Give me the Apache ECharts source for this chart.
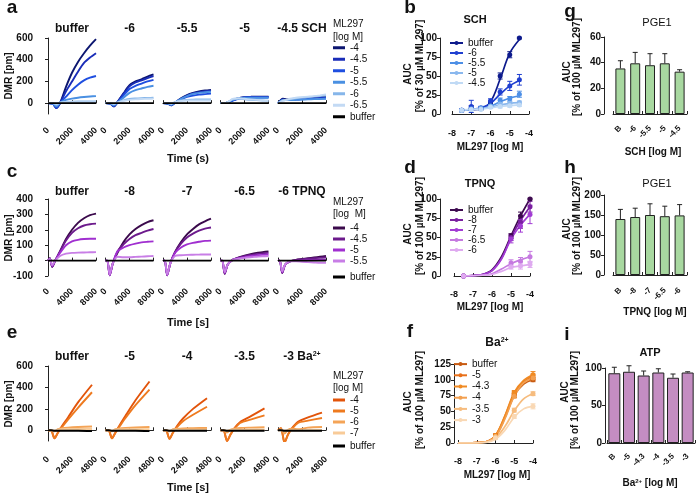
<!DOCTYPE html>
<html>
<head>
<meta charset="utf-8">
<script src="https://cdn.jsdelivr.net/npm/echarts@6/dist/echarts.min.js"></script>
<style>
  html, body { margin: 0; padding: 0; background: #fff; }
  #main { width: 696px; height: 495px; }
</style>
</head>
<body>
<div id="main"></div>
<script>
// ---------------- data ----------------
// a: DMR traces, SCH columns x ML297 rows
const schCols = ['buffer', '-6', '-5.5', '-5', '-4.5 SCH'];
const ml297A = ['-4', '-4.5', '-5', '-5.5', '-6', '-6.5', 'buffer'];
const timeA = [0, 400, 700, 1000, 1500, 2000, 2500, 3000, 3500, 4000];
const dmrA = [
  [ // SCH buffer
    [0, -5, -45, 0, 150, 280, 380, 460, 530, 590],
    [0, -5, -45, 0, 110, 200, 290, 370, 420, 460],
    [0, -5, -40, 0, 60, 120, 170, 210, 235, 250],
    [0, -5, -30, 5, 30, 42, 50, 56, 61, 65],
    [0, 0, -15, 5, 12, 14, 15, 15, 15, 15],
    [0, 0, -5, 5, 8, 8, 8, 8, 8, 8],
    [0, 0, 0, 0, 0, 0, 0, 0, 0, 0]
  ],
  [ // SCH -6
    [0, -5, -30, 10, 90, 165, 200, 220, 245, 265],
    [0, -5, -30, 10, 85, 155, 190, 210, 230, 250],
    [0, -5, -25, 5, 70, 130, 160, 180, 200, 215],
    [0, -5, -20, 5, 50, 95, 120, 135, 150, 160],
    [0, 0, -10, 5, 25, 38, 43, 46, 48, 50],
    [0, 0, -5, 5, 20, 30, 35, 38, 40, 42],
    [0, 0, 0, 0, 0, 0, 0, 0, 0, 0]
  ],
  [ // SCH -5.5
    [0, -5, -20, 5, 45, 75, 95, 108, 116, 122],
    [0, -5, -20, 5, 40, 70, 90, 102, 110, 115],
    [0, -5, -15, 5, 35, 58, 70, 78, 83, 88],
    [0, -5, -15, 5, 40, 65, 85, 95, 100, 105],
    [0, 0, -5, 10, 25, 30, 32, 34, 35, 35],
    [0, 0, -5, 10, 20, 25, 25, 25, 25, 25],
    [0, 0, 0, 0, 0, 0, 0, 0, 0, 0]
  ],
  [ // SCH -5
    [0, 0, 10, 25, 45, 55, 58, 60, 60, 60],
    [0, 0, 10, 25, 45, 55, 57, 58, 58, 58],
    [0, 0, 10, 22, 40, 50, 52, 52, 52, 52],
    [0, 0, 15, 30, 45, 50, 50, 50, 50, 50],
    [0, 0, 15, 35, 40, 35, 30, 28, 25, 22],
    [0, 0, 15, 40, 45, 40, 35, 30, 25, 20],
    [0, 0, 0, 0, 0, 0, 0, 0, 0, 0]
  ],
  [ // SCH -4.5
    [0, 40, 35, 35, 40, 45, 50, 55, 60, 65],
    [0, 35, 30, 30, 35, 40, 42, 45, 48, 50],
    [0, 30, 30, 30, 32, 35, 38, 40, 42, 45],
    [0, 30, 28, 28, 30, 32, 35, 37, 38, 40],
    [0, 25, 30, 35, 45, 50, 55, 60, 65, 70],
    [0, 20, 30, 40, 50, 55, 60, 65, 72, 80],
    [0, 0, 0, 0, 0, 0, 0, 0, 0, 0]
  ]
];

// c: DMR traces, TPNQ columns
const tpnqCols = ['buffer', '-8', '-7', '-6.5', '-6 TPNQ'];
const ml297C = ['-4', '-4.5', '-5', '-5.5', 'buffer'];
const timeC = [0, 300, 700, 1200, 2000, 3000, 4000, 5000, 6000, 7000, 8000];
const dmrC = [
  [
    [0, 15, -40, 0, 60, 140, 200, 245, 275, 295, 305],
    [0, 15, -40, 0, 60, 130, 180, 210, 228, 236, 240],
    [0, 10, -35, 0, 50, 100, 125, 135, 140, 142, 142],
    [0, 10, -30, 0, 30, 45, 50, 52, 53, 54, 55],
    [0, 0, 0, 0, 0, 0, 0, 0, 0, 0, 0]
  ],
  [
    [0, 0, -95, -20, 50, 120, 170, 205, 230, 250, 262],
    [0, 0, -95, -20, 60, 105, 140, 165, 180, 195, 205],
    [0, 0, -95, -20, 60, 85, 100, 110, 118, 122, 125],
    [0, 0, -90, -20, 25, 22, 22, 24, 26, 28, 30],
    [0, 0, 0, 0, 0, 0, 0, 0, 0, 0, 0]
  ],
  [
    [0, 0, -95, -20, 55, 120, 170, 205, 235, 255, 272],
    [0, 0, -95, -20, 55, 110, 150, 175, 195, 208, 215],
    [0, 0, -95, -20, 50, 85, 105, 115, 122, 128, 130],
    [0, 0, -90, -20, 30, 35, 37, 38, 39, 40, 40],
    [0, 0, 0, 0, 0, 0, 0, 0, 0, 0, 0]
  ],
  [
    [0, 0, -85, -25, 5, 20, 32, 42, 50, 55, 60],
    [0, 0, -85, -25, 5, 18, 28, 36, 42, 47, 50],
    [0, 0, -80, -25, 5, 15, 22, 28, 33, 37, 40],
    [0, 0, -75, -25, 5, 12, 18, 22, 25, 28, 30],
    [0, 0, 0, 0, 0, 0, 0, 0, 0, 0, 0]
  ],
  [
    [0, 0, -80, -25, -5, 5, 10, 15, 20, 25, 30],
    [0, 0, -80, -25, -5, 5, 8, 12, 15, 18, 20],
    [0, 0, -75, -25, -5, 0, 3, 4, 5, 5, 5],
    [0, 0, -70, -25, -5, -5, -8, -10, -12, -14, -15],
    [0, 0, 0, 0, 0, 0, 0, 0, 0, 0, 0]
  ]
];

// e: DMR traces, Ba2+ columns
const baCols = ['buffer', '-5', '-4', '-3.5', '-3 Ba'];
const ml297E = ['-4', '-5', '-6', '-7', 'buffer'];
const timeE = [0, 300, 650, 1000, 1400, 2000, 3000, 4400];
const dmrE = [
  [
    [0, 0, -75, -20, 40, 120, 260, 425],
    [0, 0, -75, -20, 30, 100, 210, 355],
    [0, 0, -10, 10, 20, 25, 30, 35],
    [0, 0, -5, 5, 10, 12, 12, 12],
    [0, 0, -5, -5, -5, -5, -5, -8]
  ],
  [
    [0, 0, -75, -20, 45, 135, 280, 455],
    [0, 0, -75, -20, 35, 115, 235, 380],
    [0, 0, -10, 10, 18, 22, 26, 30],
    [0, 0, -5, 5, 8, 10, 10, 10],
    [0, 0, -5, -5, -5, -5, -5, -8]
  ],
  [
    [0, 0, -80, -20, 40, 110, 200, 300],
    [0, 0, -80, -20, 30, 85, 145, 220],
    [0, 0, -10, 10, 15, 18, 20, 22],
    [0, 0, -5, 5, 5, 5, 5, 5],
    [0, 0, -5, -5, -5, -5, -5, -5]
  ],
  [
    [0, 0, -100, -40, 20, 80, 130, 205],
    [0, 0, -100, -40, 15, 70, 100, 140],
    [0, 0, -20, 5, 15, 22, 25, 28],
    [0, 0, -5, 5, 5, 5, 5, 5],
    [0, 0, -5, -5, -5, -5, -5, -5]
  ],
  [
    [0, 20, -115, -40, 20, 80, 120, 165],
    [0, 20, -115, -40, 15, 70, 90, 115],
    [0, 10, -30, 5, 15, 10, 25, 30],
    [0, 0, -5, 0, 0, 0, 0, 0],
    [0, 0, -5, -5, -5, -5, -5, -5]
  ]
];

// b: AUC vs ML297, SCH
const schB = ['buffer', '-6', '-5.5', '-5', '-4.5'];
const doseB = [-7.5, -7, -6.5, -6, -5.5, -5, -4.5];
const aucB = [
  [5, 8, 7, 15, 50, 78, 100],
  [5, 10, 8, 17, 29, 37, 45],
  [5, 7, 8, 11, 18, 20, 26],
  [5, 6, 7, 10, 13, 14, 15],
  [5, 6, 6, 9, 10, 11, 12]
];
const errB = [
  [1, 3, 2, 2, 4, 4, 1],
  [2, 8, 2, 3, 4, 6, 7],
  [1, 2, 2, 2, 3, 3, 4],
  [1, 1, 1, 2, 2, 2, 2],
  [1, 1, 1, 1, 2, 2, 2]
];
const fitB = [
  [5, 5.5, 7, 16, 46, 80, 98],
  [5, 6, 8, 14, 26, 37, 44],
  [5, 6, 7, 10, 16, 21, 24],
  [5, 6, 7, 9, 12, 14, 15],
  [5, 6, 6.5, 8, 10, 11, 12]
];

// d: AUC vs ML297, TPNQ
const tpnqD = ['buffer', '-8', '-7', '-6.5', '-6'];
const doseD = [-7.5, -5, -4.5, -4];
const aucD = [
  [0, 52, 78, 100],
  [0, 50, 70, 90],
  [0, 48, 65, 80],
  [0, 17, 19, 25],
  [0, 12, 13, 15]
];
const errD = [
  [1, 3, 5, 1],
  [1, 4, 8, 7],
  [1, 5, 8, 12],
  [1, 4, 5, 7],
  [1, 3, 4, 4]
];
const fitXD = [-7.5, -7, -6.5, -6, -5.5, -5, -4.5, -4];
const fitD = [
  [0, 0.5, 2, 8, 25, 52, 78, 100],
  [0, 0.5, 2, 7, 23, 50, 72, 90],
  [0, 0.5, 2, 7, 22, 48, 66, 80],
  [0, 0.3, 1, 3, 9, 16, 21, 25],
  [0, 0.3, 1, 2, 6, 11, 13, 15]
];

// f: AUC vs ML297, Ba2+
const baF = ['buffer', '-5', '-4.3', '-4', '-3.5', '-3'];
const doseF = [-6, -5, -4];
const aucF = [
  [12, 75, 100],
  [12, 78, 105],
  [12, 80, 108],
  [10, 74, 103],
  [10, 52, 78],
  [8, 42, 58]
];
const errF = [
  [2, 3, 3],
  [2, 3, 4],
  [2, 3, 5],
  [2, 3, 4],
  [2, 3, 3],
  [2, 3, 4]
];
const fitXF = [-8, -7.5, -7, -6.5, -6, -5.5, -5, -4.5, -4];
const fitF = [
  [0, 0, 0.5, 2, 11, 40, 75, 93, 100],
  [0, 0, 0.5, 2, 12, 42, 78, 97, 105],
  [0, 0, 0.5, 2, 12, 43, 80, 99, 108],
  [0, 0, 0.5, 2, 10, 38, 74, 95, 103],
  [0, 0, 0.3, 1.5, 8, 26, 51, 70, 78],
  [0, 0, 0.3, 1, 6, 20, 41, 54, 58]
];

// g, h, i: bar charts
const catsG = ['B', '-6', '-5.5', '-5', '-4.5'];
const pge1G = [35.5, 39.5, 38, 39.5, 33];
const errG = [6, 8.5, 9, 7.5, 1.5];
const catsH = ['B', '-8', '-7', '-6.5', '-6'];
const pge1H = [140, 145, 150, 147, 149];
const errH = [24, 22, 28, 25, 27];
const catsI = ['B', '-5', '-4.3', '-4', '-3.5', '-3'];
const atpI = [93, 95, 90, 94, 87, 94];
const errI = [8, 8, 6, 5, 5, 1];

// colours
const colorsA = ['#0c1670', '#1a2db8', '#1f4fe0', '#4a90e2', '#86b6ea', '#c3daf4', '#000000'];
const colorsC = ['#3b0a4c', '#6c1a8c', '#a02fd0', '#c87ee6', '#000000'];
const colorsE = ['#e2540a', '#ee7a1f', '#f4a457', '#f8cb98', '#000000'];
const colorsB = ['#0d1a8c', '#1f3fd0', '#4d8fe6', '#8ab8ee', '#c0daf5'];
const colorsD = ['#3d0a4f', '#7a1fa0', '#a23bd4', '#c579e0', '#dfaaf0'];
const colorsF = ['#c85a10', '#e8701a', '#f08a22', '#f3a050', '#f6bc7e', '#f9d8b4'];

// ---------------- chart ----------------
const FONT = '"Liberation Sans", Arial, sans-serif';
const INK = '#111';
const grids = [], xAxes = [], yAxes = [], series = [], legends = [], texts = [];

function addGrid(g, xa, ya) {
  const gi = grids.length;
  grids.push(g);
  xa.gridIndex = gi;
  ya.gridIndex = gi;
  xAxes.push(xa);
  yAxes.push(ya);
  return gi;
}
function lbl(size) {
  return { fontFamily: FONT, fontWeight: 'bold', fontSize: size, color: INK };
}
const plain = function (v) { return String(v); };
const axLine = { show: true, lineStyle: { color: '#222', width: 1 } };

function txt(x, y, s, size, o) {
  o = o || {};
  texts.push({
    type: 'text', x: x, y: y, rotation: o.rot || 0, silent: true,
    style: {
      text: s, fontSize: size, fontFamily: FONT, fontWeight: o.normal ? 'normal' : 'bold',
      fill: INK, align: o.align || 'center', verticalAlign: 'middle', rich: o.rich
    }
  });
}
const supRich = {
  b: { fontSize: 12, fontWeight: 'bold', fontFamily: FONT, fill: INK },
  s: { fontSize: 7, fontWeight: 'bold', fontFamily: FONT, fill: INK, verticalAlign: 'top' },
  bs: { fontSize: 10, fontWeight: 'bold', fontFamily: FONT, fill: INK },
  ss: { fontSize: 6, fontWeight: 'bold', fontFamily: FONT, fill: INK, verticalAlign: 'top' }
};

// error bars drawn through the axes of the grid
function errSeries(name, gi, color, pts, topOnly) {
  return {
    type: 'custom', name: name, xAxisIndex: gi, yAxisIndex: gi, silent: true, z: 4,
    itemStyle: { color: color },
    encode: { x: 0, y: 1 },
    renderItem: function (params, api) {
      const x = api.value(0), y = api.value(1), e = api.value(2);
      const hi = api.coord([x, y + e]);
      const lo = api.coord([x, topOnly ? y : y - e]);
      const w = 2.5;
      const st = { stroke: color, lineWidth: 1 };
      const kids = [
        { type: 'line', shape: { x1: hi[0], y1: hi[1], x2: lo[0], y2: lo[1] }, style: st },
        { type: 'line', shape: { x1: hi[0] - w, y1: hi[1], x2: hi[0] + w, y2: hi[1] }, style: st }
      ];
      if (!topOnly) kids.push({ type: 'line', shape: { x1: lo[0] - w, y1: lo[1], x2: lo[0] + w, y2: lo[1] }, style: st });
      return { type: 'group', children: kids };
    },
    data: pts
  };
}

// time course rows (a, c, e)
const subLeft = [48, 105.5, 163, 220.5, 278];
function timePanel(p) {
  p.cols.forEach(function (col, ci) {
    const gi = addGrid(
      { left: subLeft[ci], top: p.top, width: 48, height: p.height },
      {
        type: 'value', min: 0, max: p.xMax, interval: p.xMax / 2, offset: p.xOff,
        axisLine: axLine, splitLine: { show: false },
        axisTick: { show: true, inside: true, length: 3, lineStyle: { color: '#222' } },
        axisLabel: Object.assign(lbl(9), { rotate: 45, margin: 4, formatter: plain })
      },
      {
        type: 'value', min: p.yMin, max: p.yMax, show: ci === 0, offset: 12,
        splitLine: { show: false }, axisLine: axLine,
        axisTick: { show: true, length: 3, customValues: p.yTicks, lineStyle: { color: '#222' } },
        axisLabel: Object.assign(lbl(10), { customValues: p.yTicks, margin: 3, formatter: plain })
      }
    );
    p.names.forEach(function (nm, si) {
      series.push({
        type: 'line', name: p.key + '|' + nm, xAxisIndex: gi, yAxisIndex: gi,
        symbol: 'none', smooth: 0.25, silent: true,
        lineStyle: { width: 1.9, color: p.colors[si] }, itemStyle: { color: p.colors[si] },
        data: p.time.map(function (t, k) { return [t, p.data[ci][si][k]]; })
      });
    });
    if (p.supLast && ci === p.cols.length - 1) {
      txt(subLeft[ci] + 24, p.titleY, '{b|' + col + '}{s|2+}', 12, { rich: supRich });
    } else {
      txt(subLeft[ci] + 24, p.titleY, col, 12);
    }
  });
}

function timeLegend(key, names, top, lh, splitBuffer, bufTop) {
  const main = splitBuffer ? names.slice(0, -1) : names;
  const base = {
    left: 333, orient: 'vertical', itemGap: 0, itemWidth: 12, itemHeight: 3, icon: 'rect',
    padding: 0, selectedMode: false,
    textStyle: { fontFamily: FONT, fontSize: 10, color: INK, lineHeight: lh },
    formatter: function (n) { return n.split('|')[1]; }
  };
  legends.push(Object.assign({}, base, { top: top, data: main.map(function (n) { return key + '|' + n; }) }));
  if (splitBuffer) {
    legends.push(Object.assign({}, base, { top: bufTop, data: [key + '|buffer'] }));
  }
}

// dose-response panels (b, d, f)
function dosePanel(p) {
  const gi = addGrid(
    { left: p.left, top: p.top, width: p.width, height: p.height },
    {
      type: 'value', min: -8, max: -4, interval: 1, offset: p.xOff,
      axisLine: axLine, splitLine: { show: false },
      axisTick: { show: true, inside: true, length: 3, lineStyle: { color: '#222' } },
      axisLabel: Object.assign(lbl(9), { margin: 4 })
    },
    {
      type: 'value', min: 0, max: p.yMax, interval: p.yInt, offset: p.yOff,
      splitLine: { show: false }, axisLine: axLine,
      axisTick: { show: true, length: 3, lineStyle: { color: '#222' } },
      axisLabel: Object.assign(lbl(10), { margin: 3 })
    }
  );
  p.names.forEach(function (nm, si) {
    const name = p.key + '|' + nm, c = p.colors[si];
    series.push({
      type: 'line', name: name, xAxisIndex: gi, yAxisIndex: gi, symbol: 'none', smooth: 0.35,
      lineStyle: { width: 1.7, color: c }, itemStyle: { color: c }, silent: true,
      data: p.fitX.map(function (x, k) { return [x, p.fit[si][k]]; })
    });
    series.push({
      type: 'scatter', name: name, xAxisIndex: gi, yAxisIndex: gi, symbol: 'circle', symbolSize: 5,
      itemStyle: { color: c, opacity: 1 }, silent: true, z: 5,
      data: p.doses.map(function (x, k) { return [x, p.auc[si][k]]; })
    });
    series.push(errSeries(name, gi, c, p.doses.map(function (x, k) { return [x, p.auc[si][k], p.err[si][k]]; }), false));
  });
  legends.push({
    left: p.legLeft, top: p.legTop, orient: 'vertical', itemGap: 0, itemWidth: 13, itemHeight: 5,
    padding: 0, selectedMode: false,
    textStyle: { fontFamily: FONT, fontSize: 10, color: INK, lineHeight: p.legLh },
    formatter: function (n) { return n.split('|')[1]; },
    data: p.names.map(function (n) { return p.key + '|' + n; })
  });
}

// bar panels (g, h, i)
function barPanel(p) {
  const gi = addGrid(
    { left: p.left, top: p.top, width: p.width, height: p.height },
    {
      type: 'category', data: p.cats, offset: p.xOff, axisLine: axLine,
      axisTick: { show: true, inside: true, length: 3, lineStyle: { color: '#222' } },
      axisLabel: Object.assign(lbl(8), { rotate: 45, margin: 3, interval: 0 })
    },
    {
      type: 'value', min: 0, max: p.yMax, interval: p.yInt, offset: p.yOff,
      splitLine: { show: false }, axisLine: axLine,
      axisTick: { show: true, length: 3, lineStyle: { color: '#222' } },
      axisLabel: Object.assign(lbl(10), { margin: 3 })
    }
  );
  series.push({
    type: 'bar', xAxisIndex: gi, yAxisIndex: gi, data: p.values, barWidth: p.barW, silent: true,
    itemStyle: { color: p.color, borderColor: '#222', borderWidth: 1 }
  });
  series.push(errSeries('err' + gi, gi, '#222', p.values.map(function (v, k) { return [k, v, p.err[k]]; }), true));
}

// ---- build the panels ----
timePanel({ key: 'a', cols: schCols, names: ml297A, colors: colorsA, data: dmrA, time: timeA,
  top: 38, height: 76, yMin: -100, yMax: 600, yTicks: [0, 200, 400, 600], xMax: 4000, xOff: 11, titleY: 29 });
timePanel({ key: 'c', cols: tpnqCols, names: ml297C, colors: colorsC, data: dmrC, time: timeC,
  top: 199, height: 77, yMin: -100, yMax: 400, yTicks: [-100, 0, 100, 200, 300, 400], xMax: 8000, xOff: 10, titleY: 192 });
timePanel({ key: 'e', cols: baCols, names: ml297E, colors: colorsE, data: dmrE, time: timeE,
  top: 366, height: 75, yMin: -100, yMax: 600, yTicks: [0, 200, 400, 600], xMax: 4800, xOff: 13, titleY: 357, supLast: true });

timeLegend('a', ml297A, 42, 11.5, false);
timeLegend('c', ml297C, 222.5, 11, true, 271.5);
timeLegend('e', ml297E, 394.5, 11, true, 440.5);

dosePanel({ key: 'b', names: schB, colors: colorsB, doses: doseB, auc: aucB, err: errB, fitX: doseB, fit: fitB,
  left: 452, top: 38, width: 77, height: 76, yMax: 100, yInt: 25, xOff: 11, yOff: 12,
  legLeft: 449, legTop: 38, legLh: 9.5 });
dosePanel({ key: 'd', names: tpnqD, colors: colorsD, doses: doseD, auc: aucD, err: errD, fitX: fitXD, fit: fitD,
  left: 454, top: 199, width: 76, height: 77, yMax: 100, yInt: 25, xOff: 10, yOff: 14,
  legLeft: 449, legTop: 205, legLh: 9.5 });
dosePanel({ key: 'f', names: baF, colors: colorsF, doses: doseF, auc: aucF, err: errF, fitX: fitXF, fit: fitF,
  left: 458, top: 364, width: 75, height: 79, yMax: 125, yInt: 25, xOff: 10, yOff: 4,
  legLeft: 453, legTop: 358.5, legLh: 11.2 });

barPanel({ cats: catsG, values: pge1G, err: errG, color: '#a8d8a0', left: 613, top: 37, width: 74, height: 77,
  yMax: 60, yInt: 20, xOff: 10, yOff: 9, barW: 10 });
barPanel({ cats: catsH, values: pge1H, err: errH, color: '#a8d8a0', left: 613, top: 195, width: 74, height: 80,
  yMax: 200, yInt: 50, xOff: 11, yOff: 9, barW: 10 });
barPanel({ cats: catsI, values: atpI, err: errI, color: '#c48dc2', left: 607, top: 368, width: 88, height: 75,
  yMax: 100, yInt: 50, xOff: 9, yOff: 2, barW: 12 });

// ---- labels ----
[['a', 12, 8], ['b', 410, 8], ['g', 570, 12], ['c', 12, 172], ['d', 410, 168], ['h', 570, 168],
 ['e', 12, 333], ['f', 410, 332], ['i', 567, 335]].forEach(function (l) { txt(l[1], l[2], l[0], 19); });

// y axis names of time rows
txt(9, 76, 'DMR [pm]', 10, { rot: Math.PI / 2 });
txt(9, 238, 'DMR [pm]', 10, { rot: Math.PI / 2 });
txt(9, 404, 'DMR [pm]', 10, { rot: Math.PI / 2 });
txt(188, 159, 'Time (s)', 11);
txt(188, 323, 'Time [s]', 11);
txt(188, 488, 'Time [s]', 11);

// legend headings
txt(333, 24, 'ML297', 10, { normal: true, align: 'left' });
txt(333, 37, '[log M]', 10, { normal: true, align: 'left' });
txt(333, 202, 'ML297', 10, { normal: true, align: 'left' });
txt(333, 214, '[log  M]', 10, { normal: true, align: 'left' });
txt(333, 376, 'ML297', 10, { normal: true, align: 'left' });
txt(333, 388, '[log M]', 10, { normal: true, align: 'left' });

// dose-response titles and axis names
txt(475, 20, 'SCH', 11);
txt(480, 184, 'TPNQ', 11);
txt(497, 343, '{b|Ba}{s|2+}', 11, { rich: supRich });
txt(490, 147, 'ML297 [log M]', 10);
txt(490, 307, 'ML297 [log M]', 10);
txt(497, 475, 'ML297 [log M]', 10);
txt(408, 74, 'AUC', 10, { rot: Math.PI / 2 });
txt(420, 66, '[% of 30 µM ML297]', 10, { rot: Math.PI / 2 });
txt(408, 234, 'AUC', 10, { rot: Math.PI / 2 });
txt(420, 226, '[% of 100 µM ML297]', 10, { rot: Math.PI / 2 });
txt(408, 402, 'AUC', 10, { rot: Math.PI / 2 });
txt(420, 400, '[% of 100 µM ML297]', 10, { rot: Math.PI / 2 });

// bar titles and axis names
txt(657, 23, 'PGE1', 11, { normal: true });
txt(657, 184, 'PGE1', 11, { normal: true });
txt(650, 353, 'ATP', 11);
txt(653, 152, 'SCH [log M]', 10);
txt(655, 312, 'TPNQ [log M]', 10);
txt(650, 483, '{bs|Ba}{ss|2+}{bs| [log M]}', 10, { rich: supRich });
txt(567, 72, 'AUC', 10, { rot: Math.PI / 2 });
txt(577, 67, '[% of 100 µM ML297]', 10, { rot: Math.PI / 2 });
txt(567, 229, 'AUC', 10, { rot: Math.PI / 2 });
txt(577, 226, '[% of 100 µM ML297]', 10, { rot: Math.PI / 2 });
txt(565, 392, 'AUC', 10, { rot: Math.PI / 2 });
txt(575, 400, '[% of 100 µM ML297]', 10, { rot: Math.PI / 2 });

const myChart = echarts.init(document.getElementById('main'), null, { renderer: 'canvas' });
myChart.setOption({
  animation: false,
  backgroundColor: '#fff',
  grid: grids,
  xAxis: xAxes,
  yAxis: yAxes,
  legend: legends,
  series: series,
  graphic: { elements: texts }
});
</script>
</body>
</html>
